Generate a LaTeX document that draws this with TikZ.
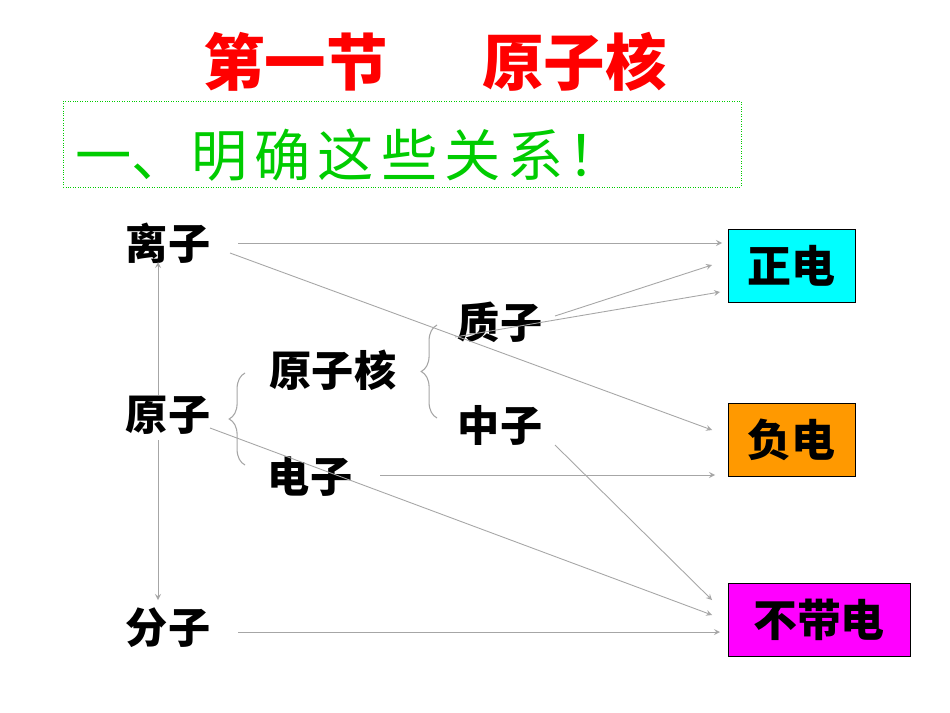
\documentclass[tikz,border=0pt]{standalone}
\usepackage{fontspec}
\setmainfont{Noto Sans CJK SC}
\usetikzlibrary{decorations.pathreplacing}
\definecolor{cy}{RGB}{0,255,255}
\definecolor{mg}{RGB}{255,0,255}
\definecolor{og}{RGB}{255,153,0}
\definecolor{gr}{RGB}{0,204,0}
\definecolor{ttl}{RGB}{255,0,0}
\begin{document}
\begin{tikzpicture}[x=0.02cm,y=-0.02cm,
  lbl/.style={font=\fontsize{24}{28}\selectfont\bfseries,inner sep=0pt},
  box/.style={draw=black,minimum height=1.46cm,font=\fontsize{25}{28}\selectfont\bfseries,inner sep=0pt},
  arr/.style={draw=gray!70,line width=0.5pt,-stealth},
  brc/.style={draw=gray!70,line width=0.6pt,decorate,decoration={brace,amplitude=9pt}}]
\useasboundingbox (0,0) rectangle (950,713);
\fill[white] (0,0) rectangle (950,713);
\node[font=\fontsize{35}{40}\selectfont\bfseries,text=ttl] (title) at (435,62) {第一节\hspace{1.9cm}原子核};
\node[draw=gr,densely dotted,minimum width=13.56cm,minimum height=1.72cm] (gbox) at (402,144) {};
\node[font=\fontsize{32}{34}\selectfont,text=gr,anchor=west,inner sep=0pt] (gtxt) at (75,155) {一、\hspace{2pt}明\hspace{4pt}确\hspace{4pt}这\hspace{4pt}些\hspace{4pt}关\hspace{4pt}系\hspace{2pt}！};
\node[lbl] (lizi) at (168,243) {离子};
\node[lbl] (yuanzi) at (168,415) {原子};
\node[lbl] (fenzi) at (168,628) {分子};
\node[lbl] (hex) at (333,370) {原子核};
\node[lbl] (dianzi) at (310,477) {电子};
\node[lbl] (zhizi) at (500,322) {质子};
\node[lbl] (zhongzi) at (500,425) {中子};
\node[box,fill=cy,minimum width=2.54cm] (zheng) at (791.5,266) {正电};
\node[box,fill=og,minimum width=2.54cm] (fu) at (791.5,439.5) {负电};
\node[box,fill=mg,minimum width=3.64cm] (bu) at (819,619.5) {不带电};
\draw[brc] (245,465) -- (245,373);
\draw[brc] (437,418) -- (437,325);
\coordinate (z1) at (722,243); \coordinate (z2) at (712,265); \coordinate (z3) at (720,292);
\coordinate (f1) at (712,430); \coordinate (e1) at (715,475);
\coordinate (b1) at (712,615); \coordinate (b2) at (712,600); \coordinate (b3) at (720,632);
\draw[arr] (238,243) -- (z1);
\draw[arr] (230,253) -- (f1);
\draw[arr] (555,316) -- (z2);
\draw[arr] (455,337) -- (z3);
\draw[arr] (210,428) -- (b1);
\draw[arr] (380,475) -- (e1);
\draw[arr] (555,445) -- (b2);
\draw[arr] (238,632) -- (b3);
\draw[arr] (158,395) -- (158,262);
\draw[arr] (158,440) -- (158,600);
\end{tikzpicture}
\end{document}
